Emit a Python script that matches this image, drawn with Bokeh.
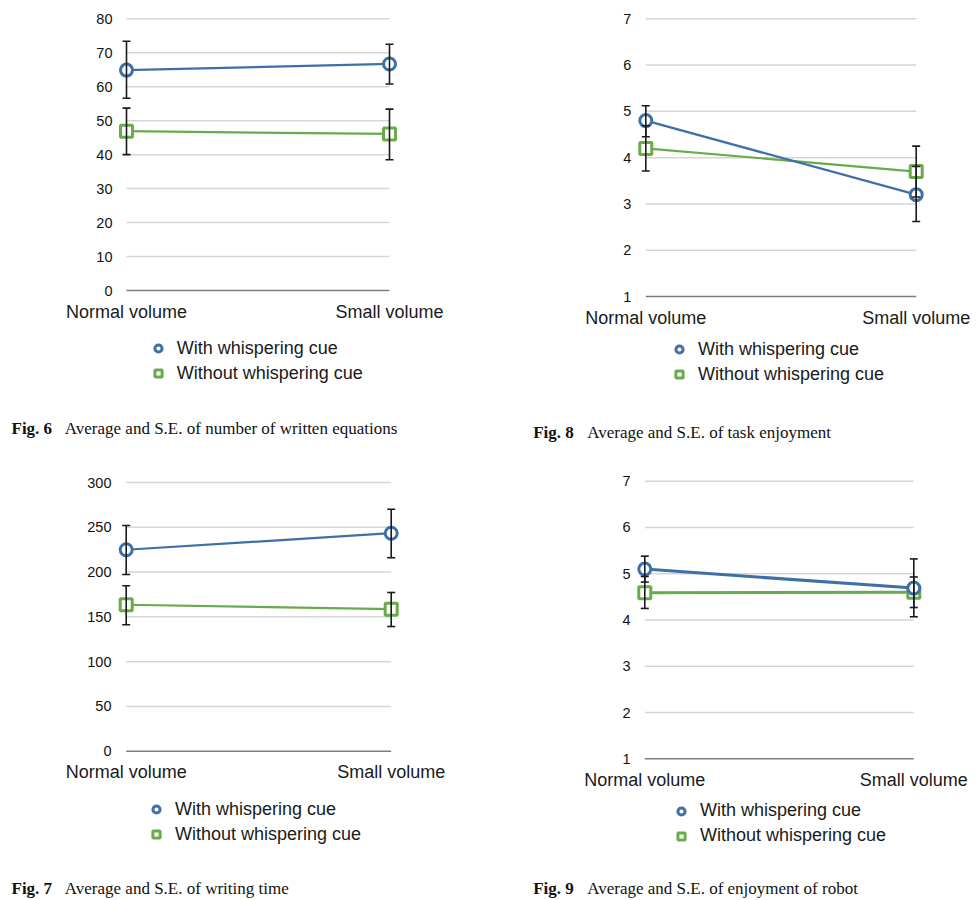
from bokeh.plotting import figure
from bokeh.models import (FixedTicker, Range1d, ColumnDataSource, Whisker, TeeHead,
                          Legend, LegendItem, Label)
from bokeh.layouts import gridplot
from bokeh.embed import file_html
from bokeh.resources import INLINE

categories = ["Normal volume", "Small volume"]
series_names = ["With whispering cue", "Without whispering cue"]

# Fig. 6 - number of written equations
fig6_ticks = [0, 10, 20, 30, 40, 50, 60, 70, 80]
fig6_with = [64.9, 66.7]
fig6_with_lo = [56.6, 60.8]
fig6_with_hi = [73.4, 72.5]
fig6_without = [46.9, 46.1]
fig6_without_lo = [40.0, 38.5]
fig6_without_hi = [53.7, 53.4]

# Fig. 8 - task enjoyment
fig8_ticks = [1, 2, 3, 4, 5, 6, 7]
fig8_with = [4.80, 3.20]
fig8_with_lo = [4.45, 2.62]
fig8_with_hi = [5.12, 3.81]
fig8_without = [4.20, 3.70]
fig8_without_lo = [3.71, 3.15]
fig8_without_hi = [4.69, 4.25]

# Fig. 7 - writing time
fig7_ticks = [0, 50, 100, 150, 200, 250, 300]
fig7_with = [224.9, 243.4]
fig7_with_lo = [197.3, 216.0]
fig7_with_hi = [252.0, 270.2]
fig7_without = [163.5, 158.6]
fig7_without_lo = [141.1, 139.2]
fig7_without_hi = [184.7, 177.2]

# Fig. 9 - enjoyment of robot
fig9_ticks = [1, 2, 3, 4, 5, 6, 7]
fig9_with = [5.10, 4.69]
fig9_with_lo = [4.82, 4.07]
fig9_with_hi = [5.38, 5.32]
fig9_without = [4.59, 4.60]
fig9_without_lo = [4.25, 4.27]
fig9_without_hi = [4.94, 4.93]

captions = {
    "6": "Average and S.E. of number of written equations",
    "8": "Average and S.E. of task enjoyment",
    "7": "Average and S.E. of writing time",
    "9": "Average and S.E. of enjoyment of robot",
}

BLUE = "#3f6fa8"
GREEN = "#69aa4a"
BAR = "#1a1a1a"
SANS = "Liberation Sans"
SERIF = "Liberation Serif"
W, H = 490, 450


def make_panel(ox, oy, x0s, x1s, yts, ybs, tick_right, ticks,
               wv, wlo, whi, ov, olo, ohi,
               leg_mx, leg_row1, cap_x, cap2_x, cap_y, num, line_w, mark_w):
    # whole panel is the plot frame; screen -> data mapping
    k = x1s - x0s
    ybot, ytop = ticks[0], ticks[-1]
    m = (ybs - yts) / (ytop - ybot)

    def dx(sx):
        return (sx - x0s) / k

    def dy(sy):
        return ybot + (ybs - sy) / m

    xr = Range1d(dx(ox), dx(ox + W))
    yr = Range1d(dy(oy + H), dy(oy))
    p = figure(width=W, height=H, x_range=xr, y_range=yr, output_backend="svg",
               toolbar_location=None, min_border=0, min_border_left=0, min_border_right=0,
               min_border_top=0, min_border_bottom=0)
    p.outline_line_color = None
    p.xgrid.visible = False
    p.ygrid.visible = False

    # y axis drawn inside the frame at a fixed location
    p.yaxis.fixed_location = dx(tick_right + 6)
    p.yaxis.ticker = FixedTicker(ticks=ticks)
    p.yaxis.axis_line_color = None
    p.yaxis.major_tick_line_color = None
    p.yaxis.minor_tick_line_color = None
    p.yaxis.major_tick_out = 0
    p.yaxis.major_tick_in = 0
    p.yaxis.major_label_standoff = 6
    p.yaxis.major_label_text_font = SANS
    p.yaxis.major_label_text_font_size = "14.5px"
    p.yaxis.major_label_text_color = "#111111"

    # x axis at the baseline
    p.xaxis.fixed_location = ybot
    p.xaxis.ticker = FixedTicker(ticks=[0, 1])
    p.xaxis.major_label_overrides = {0: categories[0], 1: categories[1]}
    p.xaxis.axis_line_color = None
    p.xaxis.major_tick_line_color = None
    p.xaxis.minor_tick_line_color = None
    p.xaxis.major_tick_out = 0
    p.xaxis.major_tick_in = 0
    p.xaxis.major_label_standoff = 11
    p.xaxis.major_label_text_font = SANS
    p.xaxis.major_label_text_font_size = "18px"
    p.xaxis.major_label_text_color = "#1a1a1a"

    # gridlines spanning the category extent
    gsrc = ColumnDataSource(dict(y=ticks[1:]))
    p.segment(x0=0, x1=1, y0="y", y1="y", source=gsrc, line_color="#d6d6d6", line_width=1.5)
    bsrc = ColumnDataSource(dict(y=ticks[:1]))
    p.segment(x0=0, x1=1, y0="y", y1="y", source=bsrc, line_color="#7d7d7d", line_width=1.5)

    wsrc = ColumnDataSource(dict(x=[0, 1], y=wv, lo=wlo, hi=whi))
    osrc = ColumnDataSource(dict(x=[0, 1], y=ov, lo=olo, hi=ohi))

    p.line("x", "y", source=osrc, line_color=GREEN, line_width=line_w)
    r_o = p.scatter("x", "y", source=osrc, marker="square", size=12, line_color=GREEN,
                    line_width=mark_w, fill_color="white")
    p.line("x", "y", source=wsrc, line_color=BLUE, line_width=line_w)
    r_w = p.scatter("x", "y", source=wsrc, marker="circle", size=12, line_color=BLUE,
                    line_width=mark_w, fill_color="white")

    for src in (osrc, wsrc):
        wk = Whisker(source=src, base="x", lower="lo", upper="hi", line_color=BAR, line_width=1.6,
                     upper_head=TeeHead(size=8, line_color=BAR, line_width=1.6),
                     lower_head=TeeHead(size=8, line_color=BAR, line_width=1.6))
        wk.level = "annotation"
        p.add_layout(wk)

    gw = 18
    legend_left = leg_mx - gw / 2
    legend_bottom = leg_row1 - 10 + 44
    leg = Legend(items=[LegendItem(label=series_names[0], renderers=[r_w]),
                        LegendItem(label=series_names[1], renderers=[r_o])],
                 location=(legend_left - ox, (oy + H) - legend_bottom),
                 glyph_width=gw, glyph_height=20, label_height=20, spacing=4,
                 padding=0, margin=0, label_standoff=10,
                 border_line_color=None, background_fill_alpha=0,
                 label_text_font=SANS, label_text_font_size="18px",
                 label_text_color="#1a1a1a")
    p.add_layout(leg)

    p.add_layout(Label(x=dx(cap_x), y=dy(cap_y),
                       text="Fig. " + num, text_font=SERIF, text_font_style="bold",
                       text_font_size="17px", text_baseline="alphabetic", text_color="#111111"))
    p.add_layout(Label(x=dx(cap2_x), y=dy(cap_y),
                       text=captions[num], text_font=SERIF,
                       text_font_size="17px", text_baseline="alphabetic", text_color="#111111"))
    return p


p6 = make_panel(0, 0, 126, 389, 18.3, 290, 112, fig6_ticks,
                fig6_with, fig6_with_lo, fig6_with_hi, fig6_without, fig6_without_lo, fig6_without_hi,
                157.7, 349.5, 11, 64.3, 428.3, "6", 2.2, 3)
p8 = make_panel(490, 0, 645.3, 915.7, 18.3, 296, 630.7, fig8_ticks,
                fig8_with, fig8_with_lo, fig8_with_hi, fig8_without, fig8_without_lo, fig8_without_hi,
                679, 350.5, 532.7, 586.7, 431.7, "8", 2.2, 3)
p7 = make_panel(0, 450, 125.7, 390.7, 482, 750.7, 111, fig7_ticks,
                fig7_with, fig7_with_lo, fig7_with_hi, fig7_without, fig7_without_lo, fig7_without_hi,
                156, 810.5, 11, 64.3, 887.5, "7", 2.2, 3)
p9 = make_panel(490, 450, 644.3, 913.3, 480.7, 758.3, 630, fig9_ticks,
                fig9_with, fig9_with_lo, fig9_with_hi, fig9_without, fig9_without_lo, fig9_without_hi,
                681, 812, 532.7, 586.7, 888, "9", 3, 3)

grid = gridplot([[p6, p8], [p7, p9]], toolbar_location=None)

open("out.html", "w").write(file_html(grid, INLINE))
